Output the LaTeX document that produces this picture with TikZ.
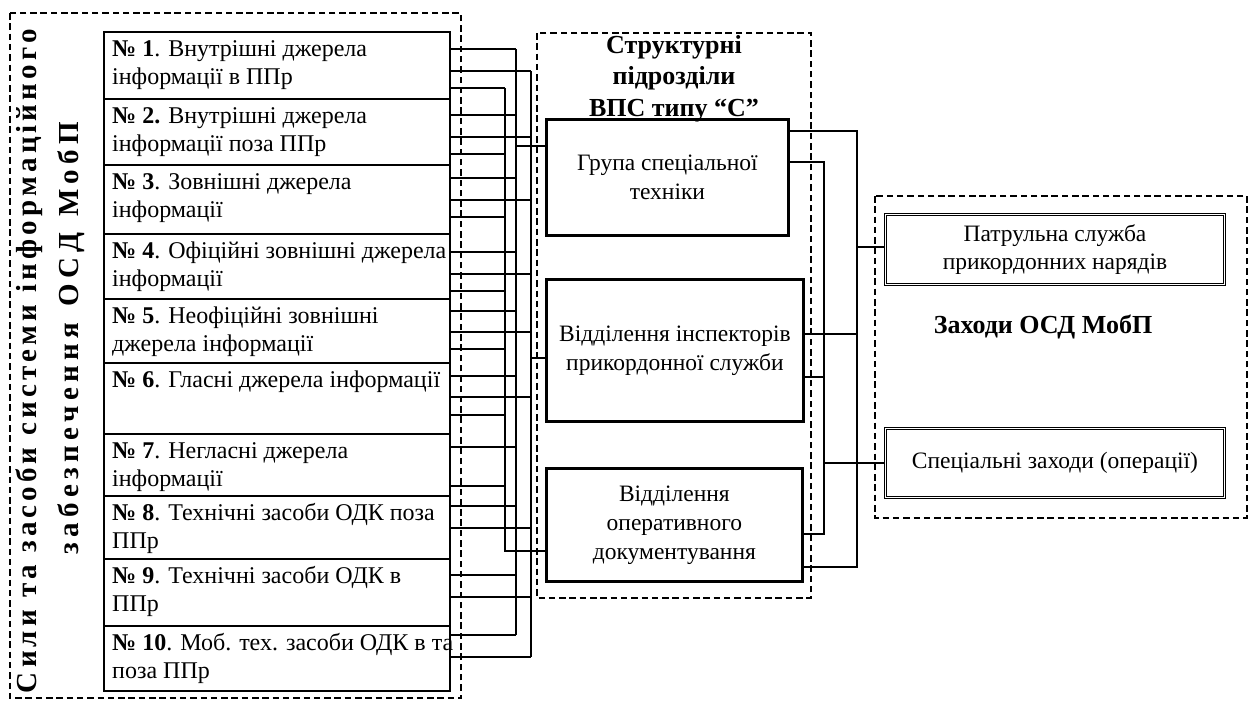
\documentclass[tikz,border=0pt]{standalone}
\usepackage{fontspec}
\setmainfont{Liberation Serif}
\newcommand{\lsp}{\hspace{0pt plus 1fill}}
\newcommand{\wsp}{\hspace{0pt plus 3fill}}
\begin{document}
\begin{tikzpicture}[x=1pt,y=-1pt,
  dbox/.style={draw, line width=1.4pt, dash pattern=on 6.5pt off 3.8pt},
  lbox/.style={draw, line width=2pt, anchor=north west, minimum width=346pt, inner sep=0pt},
  ltext/.style={anchor=base west, inner sep=0pt, font=\fontsize{24}{28}\selectfont},
  mbox/.style={draw, line width=2.8pt, anchor=north west, inner sep=0pt, align=center, font=\fontsize{23.5}{29}\selectfont},
  rbox/.style={draw, double, double distance=1.8pt, line width=1pt, anchor=north west, inner sep=0pt, align=center, font=\fontsize{23.5}{28}\selectfont},
  wire/.style={line width=1.5pt},
  btitle/.style={font=\fontsize{26}{31.5}\selectfont\bfseries, align=center, inner sep=0pt},
  vtext/.style={font=\fontsize{29}{32}\selectfont\bfseries, rotate=90, anchor=base, inner sep=0pt}
]
\useasboundingbox (0,0) rectangle (1249,704);
% frames
\draw[dbox] (10,13) rectangle (461,698);
\draw[dbox] (537,33) rectangle (811,598);
\draw[dbox] (875,196) rectangle (1247,518);
% vertical title
\node[vtext] (v1) at (36,361) {\makebox[664pt][l]{С\lsp и\lsp л\lsp и\wsp т\lsp а\wsp з\lsp а\lsp с\lsp о\lsp б\lsp и\wsp с\lsp и\lsp с\lsp т\lsp е\lsp м\lsp и\wsp і\lsp н\lsp ф\lsp о\lsp р\lsp м\lsp а\lsp ц\lsp і\lsp й\lsp н\lsp о\lsp г\lsp о}};
\node[vtext] (v2) at (78,338) {\makebox[432pt][l]{з\lsp а\lsp б\lsp е\lsp з\lsp п\lsp е\lsp ч\lsp е\lsp н\lsp н\lsp я\wsp О\lsp С\lsp Д\wsp М\lsp о\lsp б\lsp П}};
% left boxes
\foreach \i/\t/\bt in {1/31/98,2/98/164,3/164/233,4/233/298,5/298/362,6/362/433,7/433/495,8/495/558,9/558/625,10/625/690}
  \node[lbox, minimum height=\bt-\t] (b\i) at (103,\t) {};
\node[ltext] (t1) at ([xshift=9pt,yshift=-25pt]b1.north west) {\parbox[t]{360pt}{\textbf{№ 1}. Внутрішні джерела\\інформації в ППр}};
\node[ltext] (t2) at ([xshift=9pt,yshift=-25pt]b2.north west) {\parbox[t]{360pt}{\textbf{№ 2.} Внутрішні джерела\\інформації поза ППр}};
\node[ltext] (t3) at ([xshift=9pt,yshift=-25pt]b3.north west) {\parbox[t]{360pt}{\textbf{№ 3}. Зовнішні джерела\\інформації}};
\node[ltext] (t4) at ([xshift=9pt,yshift=-25pt]b4.north west) {\parbox[t]{360pt}{\textbf{№ 4}. Офіційні зовнішні джерела\\інформації}};
\node[ltext] (t5) at ([xshift=9pt,yshift=-25pt]b5.north west) {\parbox[t]{360pt}{\textbf{№ 5}. Неофіційні зовнішні\\джерела інформації}};
\node[ltext] (t6) at ([xshift=9pt,yshift=-25pt]b6.north west) {\parbox[t]{360pt}{\textbf{№ 6}. Гласні джерела інформації}};
\node[ltext] (t7) at ([xshift=9pt,yshift=-25pt]b7.north west) {\parbox[t]{360pt}{\textbf{№ 7}. Негласні джерела\\інформації}};
\node[ltext] (t8) at ([xshift=9pt,yshift=-25pt]b8.north west) {\parbox[t]{360pt}{\textbf{№ 8}. Технічні засоби ОДК поза\\ППр}};
\node[ltext] (t9) at ([xshift=9pt,yshift=-25pt]b9.north west) {\parbox[t]{360pt}{\textbf{№ 9}. Технічні засоби ОДК в\\ППр}};
\node[ltext] (t10) at ([xshift=9pt,yshift=-25pt]b10.north west) {\parbox[t]{360pt}{\textbf{№ 10}. Моб. тех. засоби ОДК в та\\поза ППр}};
% middle
\node[btitle] (mt) at (674,78.5) {Структурні\\підрозділи\\ВПС типу “С”};
\node[mbox, minimum width=242pt, minimum height=116pt] (m1) at (545,118) {Група спеціальної\\техніки};
\node[mbox, minimum width=257pt, minimum height=142pt] (m2) at (545,278) {Відділення інспекторів\\прикордонної служби};
\node[mbox, minimum width=256pt, minimum height=113pt] (m3) at (545,467) {Відділення\\оперативного\\документування};
% right
\node[rbox, minimum width=339pt, minimum height=70pt] (r1) at (885,214) {Патрульна служба\\прикордонних нарядів};
\node[rbox, minimum width=339pt, minimum height=69pt] (r2) at (885,428) {Спеціальні заходи (операції)};
\node[btitle] (rt) at (1043,327) {Заходи ОСД МобП};
% buses
\coordinate (A) at (505,0);
\coordinate (B) at (516,0);
\coordinate (C) at (531,0);
\coordinate (E) at (824,0);
\coordinate (D) at (857,0);
\foreach \i/\y/\k in {1/49/B,1/71/C,1/88/A,2/115/B,2/137/C,2/154/A,3/178/B,3/200/C,3/217/A,4/252/B,4/274/C,4/291/A,5/311/B,5/332/C,5/349/A,6/376/B,6/397/C,6/415/A,7/447/B,7/486/A,8/506/B,8/528/C,9/575/B,9/597/C,10/635/B,10/657/C}
  \draw[wire] (b\i.east |- 0,\y) -- (\k |- 0,\y);
\draw[wire] (A|-0,88) -- (A|-0,551) -- (m3.west|-0,551);
\draw[wire] (B|-0,49) -- (B|-0,635);
\draw[wire] (B|-0,146) -- (m1.west|-0,146);
\draw[wire] (C|-0,71) -- (C|-0,657);
\draw[wire] (C|-0,358) -- (m2.west|-0,358);
\draw[wire] (m1.east|-0,131) -- (D|-0,131) -- (D|-0,567) -- (m3.east|-0,567);
\draw[wire] (m1.east|-0,162) -- (E|-0,162) -- (E|-0,534) -- (m3.east|-0,534);
\draw[wire] (m2.east|-0,334) -- (D|-0,334);
\draw[wire] (m2.east|-0,377) -- (E|-0,377);
\draw[wire] (D|-0,247) -- (r1.west|-0,247);
\draw[wire] (E|-0,463) -- (r2.west|-0,463);
\end{tikzpicture}
\end{document}
